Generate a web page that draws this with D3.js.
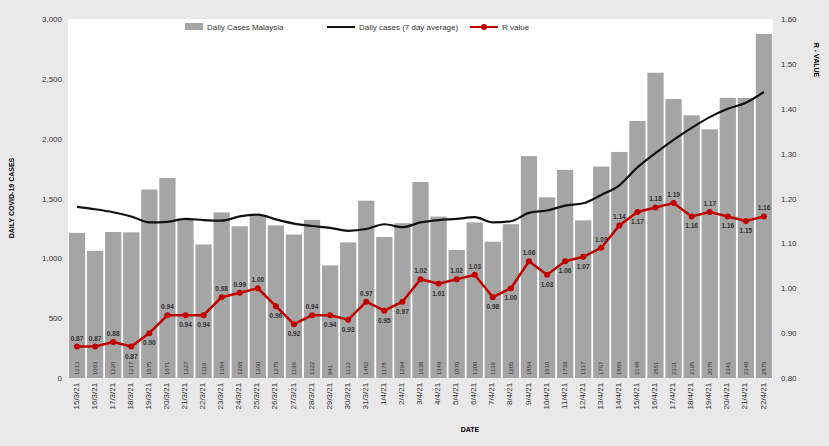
<!DOCTYPE html>
<html><head><meta charset="utf-8">
<script src="https://cdn.jsdelivr.net/npm/d3@7"></script>
<style>body{margin:0;background:#e9e9e9;font-family:"Liberation Sans",Arial,sans-serif}</style>
</head><body><svg id="chart" width="829" height="446"></svg>
<script>
const dates = ["15/3/21","16/3/21","17/3/21","18/3/21","19/3/21","20/3/21","21/3/21","22/3/21","23/3/21","24/3/21","25/3/21","26/3/21","27/3/21","28/3/21","29/3/21","30/3/21","31/3/21","1/4/21","2/4/21","3/4/21","4/4/21","5/4/21","6/4/21","7/4/21","8/4/21","9/4/21","10/4/21","11/4/21","12/4/21","13/4/21","14/4/21","15/4/21","16/4/21","17/4/21","18/4/21","19/4/21","20/4/21","21/4/21","22/4/21"];
const cases = [1213,1063,1220,1217,1575,1671,1327,1116,1384,1268,1360,1275,1199,1322,941,1133,1482,1178,1294,1638,1349,1070,1300,1139,1285,1854,1510,1739,1317,1767,1889,2148,2551,2331,2195,2078,2341,2340,2875];
const avg7 = [1430,1410,1385,1350,1300,1305,1330,1320,1315,1350,1365,1325,1290,1270,1255,1230,1245,1285,1260,1300,1320,1330,1345,1300,1310,1380,1400,1440,1460,1530,1610,1760,1880,1990,2090,2180,2250,2300,2390];
const rval = [0.87,0.87,0.88,0.87,0.90,0.94,0.94,0.94,0.98,0.99,1.00,0.96,0.92,0.94,0.94,0.93,0.97,0.95,0.97,1.02,1.01,1.02,1.03,0.98,1.00,1.06,1.03,1.06,1.07,1.09,1.14,1.17,1.18,1.19,1.16,1.17,1.16,1.15,1.16];
const rAbove = [1,1,1,0,0,1,0,0,1,1,1,0,0,1,0,0,1,0,0,1,0,1,1,0,0,1,0,0,0,1,1,0,1,1,0,1,0,0,1];

const svg = d3.select('#chart');
const m = {l:68, r:773, t:19, b:378};
svg.append('rect').attr('x',m.l).attr('y',m.t).attr('width',m.r-m.l).attr('height',m.b-m.t).attr('fill','#fff');

const x = d3.scaleBand().domain(dates).range([m.l,m.r]).paddingInner(0.1).paddingOuter(0.05);
const y = d3.scaleLinear().domain([0,3000]).range([m.b,m.t]);
const yr = d3.scaleLinear().domain([0.8,1.6]).range([m.b,m.t]);
const cx = d => x(d)+x.bandwidth()/2;

svg.selectAll('.bar').data(cases).join('rect')
  .attr('x',(d,i)=>x(dates[i])).attr('y',d=>y(d))
  .attr('width',x.bandwidth()).attr('height',d=>m.b-y(d)).attr('fill','#a5a5a5');
svg.selectAll('.bl').data(cases).join('text')
  .attr('transform',(d,i)=>`translate(${cx(dates[i])+2},${m.b-3}) rotate(-90)`)
  .attr('font-size',6).attr('fill','#333').text(d=>d);

const la = d3.line().x((d,i)=>cx(dates[i])).y(d=>y(d)).curve(d3.curveMonotoneX);
svg.append('path').attr('d',la(avg7)).attr('fill','none').attr('stroke','#111').attr('stroke-width',2.2);

const lr = d3.line().x((d,i)=>cx(dates[i])).y(d=>yr(d));
svg.append('path').attr('d',lr(rval)).attr('fill','none').attr('stroke','#c00000').attr('stroke-width',2.5);
svg.selectAll('.pt').data(rval).join('circle')
  .attr('cx',(d,i)=>cx(dates[i])).attr('cy',d=>yr(d)).attr('r',3).attr('fill','#c00000');
svg.selectAll('.rl').data(rval).join('text')
  .attr('x',(d,i)=>cx(dates[i])).attr('y',(d,i)=>yr(d)+(rAbove[i]?-6:12))
  .attr('text-anchor','middle').attr('font-size',6.5).attr('font-weight','bold').attr('fill','#333')
  .text(d=>d.toFixed(2));

const yAx = svg.append('g').attr('transform',`translate(${m.l},0)`)
  .call(d3.axisLeft(y).tickValues(d3.range(0,3001,500)).tickFormat(d3.format(',')).tickSize(0).tickPadding(6));
const rAx = svg.append('g').attr('transform',`translate(${m.r},0)`)
  .call(d3.axisRight(yr).tickValues(d3.range(0.8,1.601,0.1)).tickFormat(d3.format('.2f')).tickSize(0).tickPadding(8));
const xAx = svg.append('g').attr('transform',`translate(0,${m.b})`).call(d3.axisBottom(x).tickSize(0).tickPadding(4));
xAx.selectAll('text').attr('transform','rotate(-90)').attr('text-anchor','end').attr('dx','-0.6em').attr('dy','-0.3em');
[yAx,rAx,xAx].forEach(a=>{a.select('.domain').remove();a.selectAll('text').attr('font-size',8).attr('fill','#333');});

svg.append('text').attr('transform','translate(14,198) rotate(-90)').attr('text-anchor','middle')
  .attr('font-size',7).attr('font-weight','bold').text('DAILY COVID-19 CASES');
svg.append('text').attr('transform','translate(814,60) rotate(90)').attr('text-anchor','middle')
  .attr('font-size',7).attr('font-weight','bold').text('R - VALUE');
svg.append('text').attr('x',470).attr('y',432).attr('text-anchor','middle')
  .attr('font-size',7).attr('font-weight','bold').text('DATE');

const lg = svg.append('g').attr('font-size',8).attr('fill','#333');
lg.append('rect').attr('x',185).attr('y',23).attr('width',18).attr('height',7).attr('fill','#a5a5a5');
lg.append('text').attr('x',207).attr('y',30).text('Daily Cases Malaysia');
lg.append('line').attr('x1',327).attr('x2',355).attr('y1',27).attr('y2',27).attr('stroke','#111').attr('stroke-width',2);
lg.append('text').attr('x',359).attr('y',30).text('Daily cases (7 day average)');
lg.append('line').attr('x1',470).attr('x2',498).attr('y1',27).attr('y2',27).attr('stroke','#c00000').attr('stroke-width',2);
lg.append('circle').attr('cx',484).attr('cy',27).attr('r',3).attr('fill','#c00000');
lg.append('text').attr('x',502).attr('y',30).text('R value');
</script></body></html>
